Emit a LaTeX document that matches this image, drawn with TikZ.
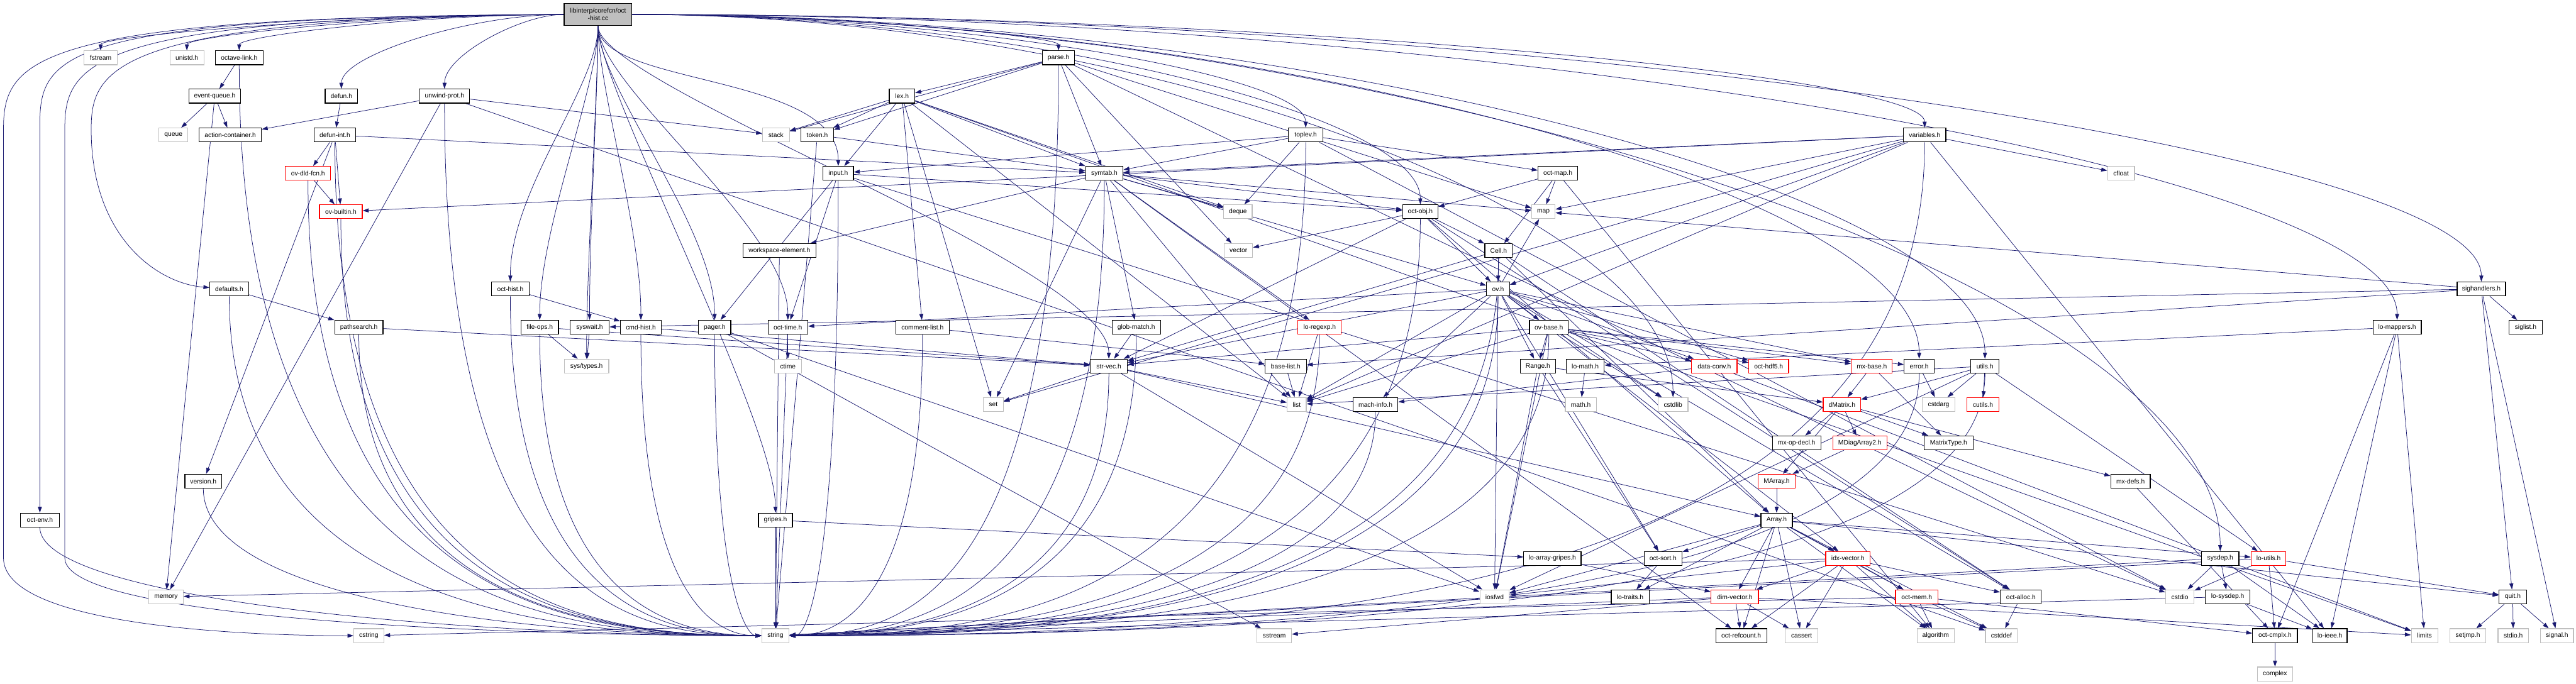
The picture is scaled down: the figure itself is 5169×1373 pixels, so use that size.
\documentclass[tikz,border=0pt]{standalone}
\usepackage{fontspec}
\setmainfont{Liberation Sans}
\usetikzlibrary{arrows.meta,calc}
\definecolor{edgeblue}{HTML}{191970}
\definecolor{extgray}{HTML}{BFBFBF}
\definecolor{rootgray}{HTML}{BFBFBF}
\pgfdeclarelayer{bg}
\pgfsetlayers{bg,main}
\newcommand\Nd[6]{\node[#1,minimum width=#5pt] (#2) at (#3,#4) {#6};}
\newcommand\Es[2]{\foreach \tg in {#2}{\draw[dep] (#1) -- (\tg);}}
\newcommand\RT[1]{\draw[dep] (root) .. controls ($(root)!0.5!(#1 |- root)$) and ($(#1)!0.5!(#1 |- root)$) .. (#1);}
\newcommand\RD[1]{\draw[dep] (root) .. controls ($(root.south)+(0,120)$) and ($(#1)+(0,-200)$) .. (#1);}
\newcommand\SW[1]{\draw[dep] (#1) .. controls (#1 |- knee) and ($(#1 |- string)!0.55!(string)$) .. (string);}
\begin{document}
\begin{tikzpicture}[x=1pt,y=-1pt,
  nbox/.style={draw=black,line width=1.5pt,fill=white,minimum height=28pt,inner sep=0pt,font=\fontsize{13}{15}\selectfont,text=black},
  rbox/.style={nbox,draw=red},
  gbox/.style={nbox,draw=extgray},
  rootbox/.style={nbox,fill=rootgray,minimum height=45pt,align=center},
  dep/.style={draw=edgeblue,line width=0.95pt,-{Triangle[length=12pt,width=8pt]}}]
\useasboundingbox (0,0) rectangle (5169,1373);
% row 0-1
\node[rootbox,minimum width=136pt] (root) at (1200,29) {libinterp/corefcn/oct\\-hist.cc};
\Nd{gbox}{fstream}{202}{116}{67}{fstream}
\Nd{gbox}{unistd}{375}{116}{68}{unistd.h}
\Nd{nbox}{octlink}{480}{116}{96}{octave-link.h}
\Nd{nbox}{parse}{2124}{116}{65}{parse.h}
% row 2
\Nd{nbox}{eventqueue}{431}{193}{104}{event-queue.h}
\Nd{nbox}{defun}{685}{193}{65}{defun.h}
\Nd{nbox}{unwind}{892}{193}{101}{unwind-prot.h}
\Nd{nbox}{lex}{1810}{193}{51}{lex.h}
% row 3
\Nd{gbox}{queue}{348}{271}{58}{queue}
\Nd{nbox}{actioncont}{462}{271}{125}{action-container.h}
\Nd{nbox}{defunint}{672}{271}{83}{defun-int.h}
\Nd{gbox}{stack}{1557}{271}{54}{stack}
\Nd{nbox}{token}{1640}{271}{65}{token.h}
\Nd{nbox}{toplev}{2620}{271}{69}{toplev.h}
\Nd{nbox}{variables}{3862}{271}{85}{variables.h}
% row 4
\Nd{rbox}{ovdld}{618}{348}{91}{ov-dld-fcn.h}
\Nd{nbox}{input}{1682}{348}{61}{input.h}
\Nd{nbox}{symtab}{2216}{348}{75}{symtab.h}
\Nd{nbox}{octmap}{3126}{348}{79}{oct-map.h}
\Nd{gbox}{cfloat}{4256}{348}{54}{cfloat}
% row 5
\Nd{rbox}{ovbuiltin}{684}{425}{86}{ov-builtin.h}
\Nd{gbox}{deque}{2484}{425}{57}{deque}
\Nd{nbox}{octobj}{2850}{425}{71}{oct-obj.h}
\Nd{gbox}{map}{3097}{425}{47}{map}
% row 6
\Nd{nbox}{wselem}{1564}{503}{146}{workspace-element.h}
\Nd{gbox}{vector}{2485}{503}{57}{vector}
\Nd{nbox}{Cell}{3007}{503}{55}{Cell.h}
% row 7
\Nd{nbox}{defaults}{460}{580}{78}{defaults.h}
\Nd{nbox}{octhisth}{1024}{580}{75}{oct-hist.h}
\Nd{nbox}{ovh}{3006}{580}{46}{ov.h}
\Nd{nbox}{sighandlers}{4979}{580}{97}{sighandlers.h}
% row 8
\Nd{nbox}{pathsearch}{720}{657}{97}{pathsearch.h}
\Nd{nbox}{fileops}{1083}{657}{75}{file-ops.h}
\Nd{nbox}{syswait}{1183}{657}{79}{syswait.h}
\Nd{nbox}{cmdhist}{1286}{657}{82}{cmd-hist.h}
\Nd{nbox}{pager}{1434}{657}{65}{pager.h}
\Nd{nbox}{octtime}{1581}{657}{80}{oct-time.h}
\Nd{nbox}{commentlist}{1851}{657}{107}{comment-list.h}
\Nd{nbox}{globmatch}{2280}{657}{97}{glob-match.h}
\Nd{rbox}{loregexp}{2648}{657}{87}{lo-regexp.h}
\Nd{nbox}{ovbase}{3108}{657}{78}{ov-base.h}
\Nd{nbox}{lomappers}{4810}{657}{97}{lo-mappers.h}
\Nd{nbox}{siglist}{5068}{657}{66}{siglist.h}
% row 9
\Nd{gbox}{systypes}{1177}{735}{89}{sys/types.h}
\Nd{gbox}{ctime}{1581}{735}{54}{ctime}
\Nd{nbox}{strvec}{2225}{735}{74}{str-vec.h}
\Nd{nbox}{baselist}{2580}{735}{83}{base-list.h}
\Nd{nbox}{Range}{3086}{735}{71}{Range.h}
\Nd{nbox}{lomath}{3181}{735}{76}{lo-math.h}
\Nd{rbox}{dataconv}{3440}{735}{91}{data-conv.h}
\Nd{rbox}{octhdf5}{3549}{735}{80}{oct-hdf5.h}
\Nd{rbox}{mxbase}{3756}{735}{82}{mx-base.h}
\Nd{nbox}{error}{3851}{735}{60}{error.h}
\Nd{nbox}{utils}{3983}{735}{57}{utils.h}
% row 10
\Nd{gbox}{set}{1993}{812}{40}{set}
\Nd{gbox}{list}{2602}{812}{38}{list}
\Nd{nbox}{machinfo}{2760}{812}{90}{mach-info.h}
\Nd{gbox}{mathh}{3172}{812}{62}{math.h}
\Nd{gbox}{cstdlib}{3357}{812}{60}{cstdlib}
\Nd{rbox}{dMatrix}{3696}{812}{75}{dMatrix.h}
\Nd{gbox}{cstdarg}{3890}{812}{65}{cstdarg}
\Nd{rbox}{cutils}{3979}{812}{65}{cutils.h}
% row 11
\Nd{nbox}{mxopdecl}{3605}{889}{97}{mx-op-decl.h}
\Nd{rbox}{MDiagArray}{3732}{889}{109}{MDiagArray2.h}
\Nd{nbox}{MatrixType}{3910}{889}{98}{MatrixType.h}
% row 12
\Nd{nbox}{version}{408}{966}{74}{version.h}
\Nd{rbox}{MArray}{3565}{966}{74}{MArray.h}
\Nd{nbox}{mxdefs}{4275}{966}{79}{mx-defs.h}
% row 13
\Nd{nbox}{octenv}{80}{1044}{78}{oct-env.h}
\Nd{nbox}{gripes}{1556}{1044}{68}{gripes.h}
\Nd{nbox}{Array}{3565}{1044}{63}{Array.h}
% row 14
\Nd{nbox}{loarraygripes}{3115}{1121}{115}{lo-array-gripes.h}
\Nd{nbox}{octsort}{3337}{1121}{76}{oct-sort.h}
\Nd{rbox}{idxvector}{3708}{1121}{89}{idx-vector.h}
\Nd{nbox}{sysdep}{4455}{1121}{75}{sysdep.h}
\Nd{rbox}{loutils}{4552}{1121}{70}{lo-utils.h}
% row 15
\Nd{gbox}{memory}{333}{1198}{69}{memory}
\Nd{gbox}{iosfwd}{2999}{1198}{59}{iosfwd}
\Nd{nbox}{lotraits}{3271}{1198}{76}{lo-traits.h}
\Nd{rbox}{dimvector}{3481}{1198}{95}{dim-vector.h}
\Nd{rbox}{octmem}{3846}{1198}{85}{oct-mem.h}
\Nd{nbox}{octalloc}{4055}{1198}{82}{oct-alloc.h}
\Nd{gbox}{cstdio}{4374}{1198}{57}{cstdio}
\Nd{nbox}{losysdep}{4470}{1198}{90}{lo-sysdep.h}
\Nd{nbox}{quit}{5042}{1198}{55}{quit.h}
% row 16
\Nd{gbox}{cstring}{740}{1276}{60}{cstring}
\Nd{gbox}{string}{1556}{1276}{55}{string}
\Nd{gbox}{sstream}{2557}{1276}{69}{sstream}
\Nd{nbox}{octrefcount}{3494}{1276}{102}{oct-refcount.h}
\Nd{gbox}{cassert}{3615}{1276}{65}{cassert}
\Nd{gbox}{algorithm}{3884}{1276}{74}{algorithm}
\Nd{gbox}{cstddef}{4016}{1276}{64}{cstddef}
\Nd{nbox}{octcmplx}{4565}{1276}{90}{oct-cmplx.h}
\Nd{nbox}{loieee}{4675}{1276}{69}{lo-ieee.h}
\Nd{gbox}{limits}{4865}{1276}{53}{limits}
\Nd{gbox}{setjmph}{4952}{1276}{72}{setjmp.h}
\Nd{gbox}{stdioh}{5043}{1276}{61}{stdio.h}
\Nd{gbox}{signalh}{5131}{1276}{66}{signal.h}
% row 17
\Nd{gbox}{complex}{4565}{1353}{70}{complex}
\coordinate (knee) at (0,1200);
\coordinate (wc1) at (7,260);
\coordinate (wc2) at (7,1120);
\coordinate (ws1) at (130,260);
\coordinate (ws2) at (130,1120);
\coordinate (we1) at (80,250);
\coordinate (wd1) at (183,260);
\begin{pgfonlayer}{bg}
\fill[white] (0,0) rectangle (5169,1373);
% root
\foreach \tg in {fstream,unistd,octlink,defun,unwind,parse,toplev,octobj,variables,error,utils,sysdep,lomappers,sighandlers,cstdlib}{\RT{\tg}}
\foreach \tg in {systypes,fileops,octhisth,cmdhist,syswait,pager,octtime,gripes,input,strvec}{\RD{\tg}}
\draw[dep] (root) .. controls (60,32) and (7,120) .. (wc1) -- (wc2) .. controls (7,1250) and (450,1276) .. (cstring);
\draw[dep] (root) .. controls (170,34) and (130,130) .. (ws1) -- (ws2) .. controls (130,1250) and (1100,1276) .. (string);
\draw[dep] (root) .. controls (120,33) and (80,110) .. (we1) -- (octenv);
\draw[dep] (root) .. controls (220,36) and (183,140) .. (wd1) .. controls (183,480) and (320,570) .. (defaults);
% others
\Es{octlink}{eventqueue} \SW{octlink}
\Es{eventqueue}{queue,actioncont,memory}
\Es{defun}{defunint}
\Es{unwind}{actioncont,stack,memory,cstddef} \SW{unwind}
\Es{defunint}{ovbuiltin,ovdld,symtab,version} \SW{defunint}
\Es{ovdld}{ovbuiltin} \SW{ovdld}
\SW{ovbuiltin}
\Es{parse}{lex,stack,token,symtab,cstdio,vector,map} \SW{parse}
\Es{lex}{deque,limits,list,set,stack,commentlist,input,symtab,token}
\Es{token}{symtab,string}
\Es{input}{cstdio,octtime,octobj,pager} \SW{input}
\Es{symtab}{deque,list,map,set,globmatch,loregexp,octobj,wselem,octrefcount,ovh} \SW{symtab}
\Es{toplev}{cstdio,deque,octmap,symtab,input} \SW{toplev}
\Es{octmap}{algorithm,map,Cell,octobj}
\Es{octobj}{vector,octalloc,strvec,Cell,ovh,Array} \SW{octobj}
\Es{Cell}{Array,octalloc,strvec,ovh} \SW{Cell}
\Es{variables}{cfloat,list,map,set,loieee,ovh,ovbuiltin,symtab} \SW{variables}
\Es{wselem}{string}
\Es{ovh}{cstdlib,iosfwd,list,map,Range,dataconv,idxvector,machinfo,mxbase,octalloc,octtime,strvec,octhdf5,octsort,ovbase} \SW{ovh}
\Es{ovbase}{cstdlib,iosfwd,list,Range,dataconv,mxbase,strvec,error,octhdf5} \SW{ovbase}
\Es{Range}{iosfwd,dMatrix,octsort}
\Es{lomath}{mathh}
\Es{dataconv}{limits,machinfo}
\SW{machinfo}
\Es{mxbase}{dMatrix,MatrixType}
\Es{error}{cstdarg} \SW{error}
\Es{dMatrix}{MArray,MDiagArray,mxdefs,mxopdecl,MatrixType}
\Es{MDiagArray}{MArray}
\Es{MArray}{Array}
\Es{Array}{cassert,cstddef,algorithm,iosfwd,dimvector,idxvector,lotraits,loutils,octsort,quit,octmem,octrefcount}
\Es{octsort}{lotraits}
\Es{loarraygripes}{dimvector}
\Es{gripes}{loarraygripes,string}
\Es{idxvector}{cassert,algorithm,iosfwd,memory,dimvector,octalloc,octmem,octrefcount}
\Es{dimvector}{cassert,limits,sstream,string,octrefcount}
\Es{octmem}{cstddef,cstring,algorithm,octcmplx}
\Es{octalloc}{cstddef}
\Es{loutils}{cstdio,quit,octcmplx,string}
\Es{sysdep}{cstdio,loieee,losysdep,string}
\Es{losysdep}{loieee,string}
\Es{octcmplx}{complex}
\Es{quit}{stdioh,signalh,setjmph}
\Es{lomappers}{limits,octcmplx,lomath,loieee}
\Es{utils}{cstdarg,iosfwd,list,dMatrix,loutils,cutils} \SW{utils}
\Es{sighandlers}{signalh,map,syswait,siglist,baselist,quit}
\Es{baselist}{list}
\Es{commentlist}{baselist} \SW{commentlist}
\Es{globmatch}{strvec} \SW{globmatch}
\Es{pager}{iosfwd,sstream} \SW{pager}
\Es{octtime}{ctime,string}
\Es{strvec}{iosfwd,list,set,Array} \SW{strvec}
\Es{fileops}{systypes,strvec} \SW{fileops}
\Es{syswait}{systypes}
\Es{cmdhist}{strvec} \SW{cmdhist}
\Es{octhisth}{cmdhist} \SW{octhisth}
\Es{defaults}{pathsearch} \SW{defaults}
\Es{pathsearch}{strvec} \SW{pathsearch}
\SW{octenv}
\SW{version}
\Es{loregexp}{list} \SW{loregexp}
\Es{mxdefs}{octcmplx}
\end{pgfonlayer}
\end{tikzpicture}
\end{document}
